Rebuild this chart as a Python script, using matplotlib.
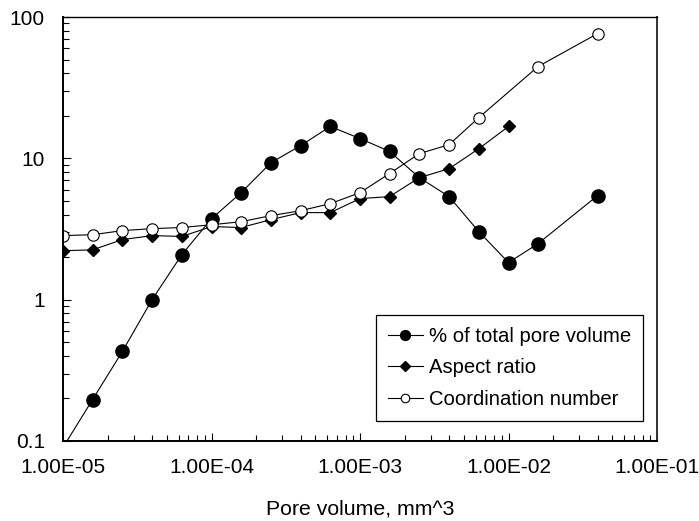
import matplotlib
matplotlib.use("Agg")
import matplotlib.pyplot as plt
from matplotlib.ticker import LogLocator, FixedLocator, FixedFormatter, NullFormatter

plt.rcParams['font.family'] = ['Liberation Sans', 'DejaVu Sans']

x_vol = [1.0e-5, 1.58e-5, 2.51e-5, 3.98e-5, 6.31e-5, 1.0e-4, 1.58e-4, 2.51e-4, 3.98e-4,
         6.31e-4, 1.0e-3, 1.58e-3, 2.51e-3, 3.98e-3, 6.31e-3, 1.0e-2, 1.58e-2, 3.98e-2]
pct_volume = [0.09, 0.196, 0.43, 1.0, 2.08, 3.74, 5.7, 9.3, 12.3,
              16.8, 13.8, 11.2, 7.3, 5.36, 3.03, 1.83, 2.49, 5.45]

x_aspect = [1.0e-5, 1.58e-5, 2.51e-5, 3.98e-5, 6.31e-5, 1.0e-4, 1.58e-4, 2.51e-4, 3.98e-4,
            6.31e-4, 1.0e-3, 1.58e-3, 2.51e-3, 3.98e-3, 6.31e-3, 1.0e-2]
aspect_ratio = [2.22, 2.25, 2.66, 2.84, 2.8, 3.29, 3.24, 3.68, 4.13,
                4.13, 5.19, 5.36, 7.3, 8.45, 11.7, 16.8]

x_coord = [1.0e-5, 1.58e-5, 2.51e-5, 3.98e-5, 6.31e-5, 1.0e-4, 1.58e-4, 2.51e-4, 3.98e-4,
           6.31e-4, 1.0e-3, 1.58e-3, 2.51e-3, 3.98e-3, 6.31e-3, 1.58e-2, 3.98e-2]
coord_number = [2.84, 2.88, 3.08, 3.18, 3.24, 3.39, 3.56, 3.93, 4.26,
                4.78, 5.72, 7.8, 10.8, 12.5, 19.4, 44.6, 76.3]

x_ticks = [1e-5, 1e-4, 1e-3, 1e-2, 1e-1]
x_tick_labels = ['1.00E-05', '1.00E-04', '1.00E-03', '1.00E-02', '1.00E-01']
y_ticks = [0.1, 1, 10, 100]
y_tick_labels = ['0.1', '1', '10', '100']

fig = plt.figure(figsize=(6.99, 5.21), dpi=100)
ax = fig.add_axes([63/699, 80/521, 594/699, 424/521])

lw = 0.8
ax.plot(x_vol, pct_volume, color='black', lw=lw, marker='o', ms=9.5,
        mfc='black', mec='black', label='% of total pore volume')
ax.plot(x_aspect, aspect_ratio, color='black', lw=lw, marker='D', ms=6.4,
        mfc='black', mec='black', label='Aspect ratio')
ax.plot(x_coord, coord_number, color='black', lw=lw, marker='o', ms=8.2,
        mfc='white', mec='black', mew=0.8, label='Coordination number')

ax.set_xscale('log')
ax.set_yscale('log')
ax.set_xlim(1e-5, 1e-1)
ax.set_ylim(0.1, 100)

ax.xaxis.set_major_locator(FixedLocator(x_ticks))
ax.xaxis.set_major_formatter(FixedFormatter(x_tick_labels))
ax.yaxis.set_major_locator(FixedLocator(y_ticks))
ax.yaxis.set_major_formatter(FixedFormatter(y_tick_labels))
ax.xaxis.set_minor_locator(LogLocator(base=10, subs=range(2, 10), numticks=20))
ax.yaxis.set_minor_locator(LogLocator(base=10, subs=range(2, 10), numticks=20))
ax.xaxis.set_minor_formatter(NullFormatter())
ax.yaxis.set_minor_formatter(NullFormatter())

ax.tick_params(which='both', direction='in', top=False, right=False, width=0.8, labelsize=15)
ax.tick_params(which='major', length=6)
ax.tick_params(which='minor', length=4)
ax.tick_params(axis='x', which='major', pad=12.5)
ax.tick_params(axis='y', which='major', pad=13)
for s in ax.spines.values():
    s.set_linewidth(1.0)
    s.set_color('black')
ax.spines['left'].set_linewidth(1.4)
ax.spines['bottom'].set_linewidth(1.4)
ax.spines['right'].set_color('#333333')
ax.spines['right'].set_linewidth(1.4)

ax.set_xlabel('Pore volume, mm^3', fontsize=15.3, labelpad=16)

leg = ax.legend(loc='lower right', bbox_to_anchor=(580/594, 20/424), fontsize=14.6,
                frameon=True, fancybox=False, shadow=False, edgecolor='black',
                framealpha=1, markerscale=0.75, handlelength=1.72, handletextpad=0.3,
                borderpad=0.6, labelspacing=0.62, borderaxespad=0)
leg.get_frame().set_linewidth(0.9)

fig.savefig('out.png', dpi=100)
